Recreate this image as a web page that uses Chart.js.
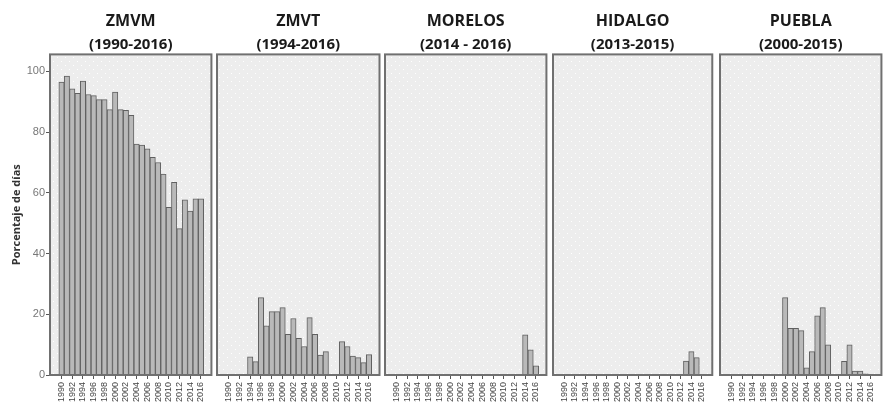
<!DOCTYPE html>
<html>
<head>
<meta charset="utf-8">
<script src="https://cdn.jsdelivr.net/npm/chart.js@4.4.1/dist/chart.umd.min.js"></script>
<style>
    html, body { margin: 0; padding: 0; background: #fff; }
    #wrap { position: relative; width: 885px; height: 403px; overflow: hidden; }
    #wrap canvas { position: absolute; top: 0; }
</style>
</head>
<body>
<div id="wrap">
    <canvas id="c0"></canvas>
    <canvas id="c1"></canvas>
    <canvas id="c2"></canvas>
    <canvas id="c3"></canvas>
    <canvas id="c4"></canvas>
</div>
<script>
// años (eje x) y etiquetas
const years = [1990, 1991, 1992, 1993, 1994, 1995, 1996, 1997, 1998, 1999, 2000, 2001, 2002, 2003,
    2004, 2005, 2006, 2007, 2008, 2009, 2010, 2011, 2012, 2013, 2014, 2015, 2016];
const xTickYears = [1990, 1992, 1994, 1996, 1998, 2000, 2002, 2004, 2006, 2008, 2010, 2012, 2014, 2016];
const yTicks = [0, 20, 40, 60, 80, 100];

const regiones = ['ZMVM', 'ZMVT', 'MORELOS', 'HIDALGO', 'PUEBLA'];
const periodos = ['(1990-2016)', '(1994-2016)', '(2014 - 2016)', '(2013-2015)', '(2000-2015)'];

// porcentaje de días por año (null = sin dato)
const zmvm = [96.5, 98.5, 94.3, 92.8, 96.8, 92.4, 92.0, 90.7, 90.7, 87.4, 93.2, 87.4, 87.2, 85.5,
    76.1, 75.7, 74.5, 71.7, 70.0, 66.2, 55.2, 63.5, 48.2, 57.7, 54.0, 58.0, 58.0];
const zmvt = [null, null, null, null, 6.0, 4.4, 25.5, 16.2, 20.9, 20.9, 22.2, 13.4, 18.6, 12.1,
    9.4, 18.9, 13.4, 6.6, 7.7, null, null, 11.0, 9.4, 6.2, 5.7, 4.1, 6.7];
const morelos = [null, null, null, null, null, null, null, null, null, null, null, null, null, null,
    null, null, null, null, null, null, null, null, null, null, 13.2, 8.3, 3.0];
const hidalgo = [null, null, null, null, null, null, null, null, null, null, null, null, null, null,
    null, null, null, null, null, null, null, null, null, 4.6, 7.7, 5.7, null];
const puebla = [null, null, null, null, null, null, null, null, null, null, 25.5, 15.4, 15.4, 14.6,
    2.4, 7.7, 19.5, 22.2, 9.9, null, null, 4.5, 9.9, 1.3, 1.3, 0.4, null];

const series = [zmvm, zmvt, morelos, hidalgo, puebla];

// posición de cada lienzo: [left, width, padLeft, padRight]
const boxes = [
    [0, 215, 0, 3],
    [214, 169, 3, 3],
    [382, 168, 3, 3],
    [550, 166, 3, 3],
    [717, 168, 3, 2],
];

// fondo gris con puntos blancos
function crearPatron(ctx) {
    const p = document.createElement('canvas');
    p.width = 8; p.height = 8;
    const c = p.getContext('2d');
    c.fillStyle = '#ededed';
    c.fillRect(0, 0, 8, 8);
    c.fillStyle = '#ffffff';
    c.fillRect(1, 1, 1, 1);
    c.fillRect(5, 5, 1, 1);
    return ctx.createPattern(p, 'repeat');
}

const panelPlugin = {
    id: 'panel',
    beforeDatasetsDraw(chart) {
        const { ctx, chartArea: a } = chart;
        ctx.save();
        ctx.fillStyle = crearPatron(ctx);
        ctx.fillRect(a.left, a.top, a.right - a.left, a.bottom - a.top);
        ctx.restore();
    },
    afterDraw(chart) {
        const { ctx, chartArea: a } = chart;
        ctx.save();
        ctx.strokeStyle = '#707070';
        ctx.lineWidth = 2;
        ctx.strokeRect(a.left, a.top, a.right - a.left, a.bottom - a.top);
        ctx.restore();
    },
};

function crearPanel(i) {
    const [left, width, padL, padR] = boxes[i];
    const canvas = document.getElementById('c' + i);
    canvas.width = width;
    canvas.height = 403;
    canvas.style.left = left + 'px';
    canvas.style.width = width + 'px';
    canvas.style.height = '403px';
    const primero = i === 0;

    return new Chart(canvas, {
        type: 'bar',
        data: {
            datasets: [{
                data: years.map((y, k) => ({ x: y, y: series[i][k] })),
                backgroundColor: '#b9b9b9',
                borderColor: '#606060',
                borderWidth: 1,
                barPercentage: 1,
                categoryPercentage: 1,
            }],
        },
        options: {
            responsive: false,
            animation: false,
            devicePixelRatio: 1,
            layout: { padding: { left: padL, right: padR, top: 0, bottom: 0 } },
            plugins: {
                legend: { display: false },
                tooltip: { enabled: false },
                title: {
                    display: true,
                    text: regiones[i],
                    fullSize: false,
                    color: '#1a1a1a',
                    font: { family: 'Open Sans', size: 16, weight: 'bold', lineHeight: 1.2 },
                    padding: { top: 12, bottom: 0 },
                },
                subtitle: {
                    display: true,
                    text: periodos[i],
                    fullSize: false,
                    color: '#1a1a1a',
                    font: { family: 'Open Sans', size: 15, weight: 'bold', lineHeight: 1.2 },
                    padding: { top: 4.6, bottom: 0.6 },
                },
            },
            scales: {
                x: {
                    type: 'linear',
                    offset: false,
                    min: 1987.85,
                    max: 2017.95,
                    afterBuildTicks: (s) => { s.ticks = xTickYears.map((v) => ({ value: v })); },
                    afterFit: (s) => { s.height = 28; },
                    grid: { display: true, offset: false, drawOnChartArea: false, tickLength: 4, color: '#555' },
                    border: { display: false },
                    ticks: {
                        autoSkip: false,
                        minRotation: 90,
                        maxRotation: 90,
                        padding: 3,
                        color: '#444',
                        font: { family: 'Liberation Sans', size: 9 },
                        callback: (v) => String(v),
                    },
                },
                y: {
                    display: primero,
                    min: 0,
                    max: 105.6,
                    afterBuildTicks: (s) => { s.ticks = yTicks.map((v) => ({ value: v })); },
                    afterFit: (s) => { s.width = primero ? 50 : 0; },
                    grid: { display: true, drawOnChartArea: false, tickLength: 4, color: '#555' },
                    border: { display: false },
                    ticks: {
                        padding: 1,
                        color: '#777',
                        font: { family: 'Liberation Sans', size: 11 },
                    },
                    title: {
                        display: primero,
                        text: 'Porcentaje de días',
                        color: '#333',
                        font: { family: 'Open Sans', size: 11, weight: 'bold', lineHeight: 1.2 },
                        padding: { top: 10, bottom: 0 },
                    },
                },
            },
        },
        plugins: [panelPlugin],
    });
}

regiones.forEach((r, i) => crearPanel(i));
</script>
</body>
</html>
